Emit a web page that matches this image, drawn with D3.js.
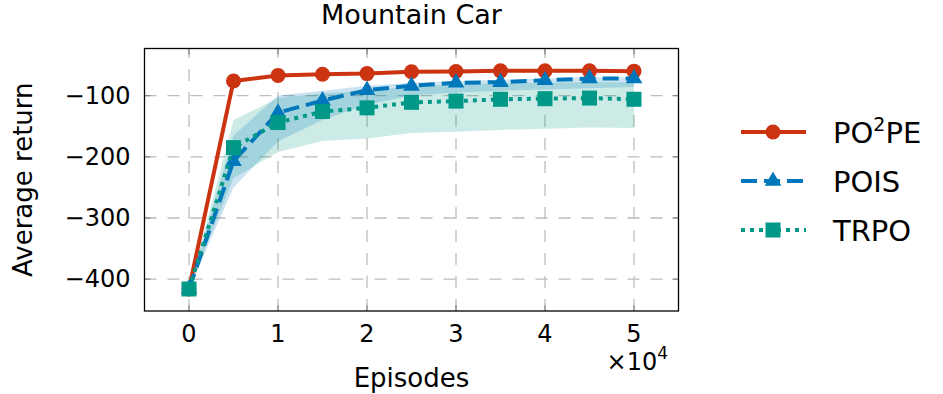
<!DOCTYPE html>
<html>
<head>
<meta charset="utf-8">
<script src="https://cdn.jsdelivr.net/npm/d3@7"></script>
<style>
  body { margin: 0; background: #fff; }
</style>
</head>
<body>
<svg id="mainsvg" width="943" height="394"></svg>
<script>
// episodes (x) and mean returns
const episodes = [0, 5000, 10000, 15000, 20000, 25000, 30000, 35000, 40000, 45000, 50000];
const po2pe = [-416, -76, -67, -65, -64, -61, -60.5, -59.5, -59.5, -59.5, -60];
const pois = [-416, -207, -128, -108, -91, -84, -79, -78, -75, -72, -72];
const trpo = [-416, -185, -144, -126, -120, -111, -109, -106, -105, -104, -106];

// confidence bands
const poisLow = [-416, -250, -175, -140, -115, -100, -95, -92, -90, -88, -86];
const poisHigh = [-416, -165, -100, -92, -84, -79, -76, -74, -72, -70, -70];
const trpoLow = [-416, -235, -192, -174, -170, -161, -159, -156, -154, -152, -153];
const trpoHigh = [-416, -140, -104, -96, -92, -85, -82, -80, -79, -78, -78];

const xTicks = [0, 10000, 20000, 30000, 40000, 50000];
const yTicks = [-400, -300, -200, -100];
const legendNames = ['PO2PE', 'POIS', 'TRPO'];

const svg = d3.select('#mainsvg');
const margin = { top: 48.5, right: 264.5, bottom: 83, left: 144.5 };
const width = +svg.attr('width');
const height = +svg.attr('height');
const innerWidth = width - margin.left - margin.right;
const innerHeight = height - margin.top - margin.bottom;
const fs = 24;
const font = "'DejaVu Sans', sans-serif";

const xScale = d3.scaleLinear().domain([-5000, 55000]).range([0, innerWidth]);
const yScale = d3.scaleLinear().domain([-452, -23]).range([innerHeight, 0]);

const g = svg.append('g')
  .attr('transform', `translate(${margin.left}, ${margin.top})`);

// grid
const gridColor = '#bdbdbd';
g.append('g').selectAll('line').data(xTicks).join('line')
  .attr('x1', d => xScale(d)).attr('x2', d => xScale(d))
  .attr('y1', innerHeight).attr('y2', 0)
  .attr('stroke', gridColor).attr('stroke-width', 1.3)
  .attr('stroke-dasharray', '12,11');
g.append('g').selectAll('line').data(yTicks).join('line')
  .attr('x1', 0).attr('x2', innerWidth)
  .attr('y1', d => yScale(d)).attr('y2', d => yScale(d))
  .attr('stroke', gridColor).attr('stroke-width', 1.3)
  .attr('stroke-dasharray', '12,11');

// bands
const band = (lo, hi) => d3.area()
  .x((d, i) => xScale(episodes[i]))
  .y0((d, i) => yScale(lo[i]))
  .y1((d, i) => yScale(hi[i]));

g.append('path').datum(episodes)
  .attr('d', band(trpoLow, trpoHigh))
  .attr('fill', '#009988').attr('fill-opacity', 0.2);
g.append('path').datum(episodes)
  .attr('d', band(poisLow, poisHigh))
  .attr('fill', '#0077BB').attr('fill-opacity', 0.2);

// series
const series = [
  { name: 'PO2PE', values: po2pe, color: '#CC3311', dash: null, marker: 'circle' },
  { name: 'POIS', values: pois, color: '#0077BB', dash: '16,7', marker: 'triangle' },
  { name: 'TRPO', values: trpo, color: '#009988', dash: '4,5', marker: 'square' },
];

const line = d3.line()
  .x(d => xScale(d[0]))
  .y(d => yScale(d[1]));

const symbolFor = m => {
  if (m === 'circle') return d3.symbol().type(d3.symbolCircle).size(Math.PI * 7.5 * 7.5);
  if (m === 'triangle') return d3.symbol().type(d3.symbolTriangle).size(120);
  return d3.symbol().type(d3.symbolSquare).size(15 * 15);
};

series.forEach(s => {
  const pts = episodes.map((e, i) => [e, s.values[i]]);
  g.append('path').datum(pts)
    .attr('d', line)
    .attr('fill', 'none')
    .attr('stroke', s.color)
    .attr('stroke-width', 4)
    .attr('stroke-linejoin', 'round')
    .attr('stroke-dasharray', s.dash);
  g.append('g').selectAll('path').data(pts).join('path')
    .attr('transform', d => `translate(${xScale(d[0])}, ${yScale(d[1])})`)
    .attr('d', symbolFor(s.marker))
    .attr('fill', s.color);
});

// ticks (inside, all four sides)
const tickColor = '#8c8c8c';
xTicks.forEach(t => {
  g.append('line').attr('x1', xScale(t)).attr('x2', xScale(t))
    .attr('y1', innerHeight).attr('y2', innerHeight - 6)
    .attr('stroke', tickColor).attr('stroke-width', 1.3);
  g.append('line').attr('x1', xScale(t)).attr('x2', xScale(t))
    .attr('y1', 0).attr('y2', 6)
    .attr('stroke', tickColor).attr('stroke-width', 1.3);
});
yTicks.forEach(t => {
  g.append('line').attr('x1', 0).attr('x2', 6)
    .attr('y1', yScale(t)).attr('y2', yScale(t))
    .attr('stroke', tickColor).attr('stroke-width', 1.3);
  g.append('line').attr('x1', innerWidth).attr('x2', innerWidth - 6)
    .attr('y1', yScale(t)).attr('y2', yScale(t))
    .attr('stroke', tickColor).attr('stroke-width', 1.3);
});

// frame
g.append('rect')
  .attr('width', innerWidth).attr('height', innerHeight)
  .attr('fill', 'none').attr('stroke', '#000').attr('stroke-width', 1.3);

// tick labels
g.append('g').selectAll('text').data(xTicks).join('text')
  .attr('font-family', font)
  .attr('x', d => xScale(d))
  .attr('y', innerHeight + 31)
  .attr('text-anchor', 'middle')
  .attr('font-size', fs)
  .text(d => d / 10000);

g.append('g').selectAll('text').data(yTicks).join('text')
  .attr('font-family', font)
  .attr('x', -14)
  .attr('y', d => yScale(d) + 8)
  .attr('text-anchor', 'end')
  .attr('font-size', fs)
  .text(d => '\u2212' + Math.abs(d));

const sci = g.append('text')
  .attr('font-family', font)
  .attr('x', 523.5)
  .attr('y', innerHeight + 59)
  .attr('text-anchor', 'end')
  .attr('font-size', fs);
sci.append('tspan').text('\u00d710');
sci.append('tspan').attr('font-size', 17).attr('dy', -11).text('4');

// axis labels and title
g.append('text')
  .attr('font-family', font)
  .attr('x', innerWidth / 2).attr('y', innerHeight + 76)
  .attr('text-anchor', 'middle').attr('font-size', 26)
  .text('Episodes');

g.append('text')
  .attr('font-family', font)
  .attr('transform', `translate(${32 - margin.left}, ${innerHeight / 2}) rotate(-90)`)
  .attr('text-anchor', 'middle').attr('font-size', 26)
  .text('Average return');

g.append('text')
  .attr('font-family', font)
  .attr('x', innerWidth / 2).attr('y', 24 - margin.top)
  .attr('text-anchor', 'middle').attr('font-size', 27)
  .text('Mountain Car');

// legend
const legend = svg.append('g').attr('transform', 'translate(741, 132)');
series.forEach((s, i) => {
  const row = legend.append('g').attr('transform', `translate(0, ${i * 49})`);
  row.append('line')
    .attr('x1', 0).attr('x2', 65).attr('y1', 0).attr('y2', 0)
    .attr('stroke', s.color).attr('stroke-width', 4)
    .attr('stroke-dasharray', s.dash);
  row.append('path')
    .attr('transform', 'translate(32, 0)')
    .attr('d', symbolFor(s.marker))
    .attr('fill', s.color);
  const label = row.append('text')
    .attr('font-family', font)
    .attr('x', 92).attr('y', 10.5)
    .attr('font-size', 29);
  if (legendNames[i] === 'PO2PE') {
    label.append('tspan').text('PO');
    label.append('tspan').attr('font-size', 19).attr('dy', -12).text('2');
    label.append('tspan').attr('dy', 12).text('PE');
  } else {
    label.text(legendNames[i]);
  }
});
</script>
</body>
</html>
